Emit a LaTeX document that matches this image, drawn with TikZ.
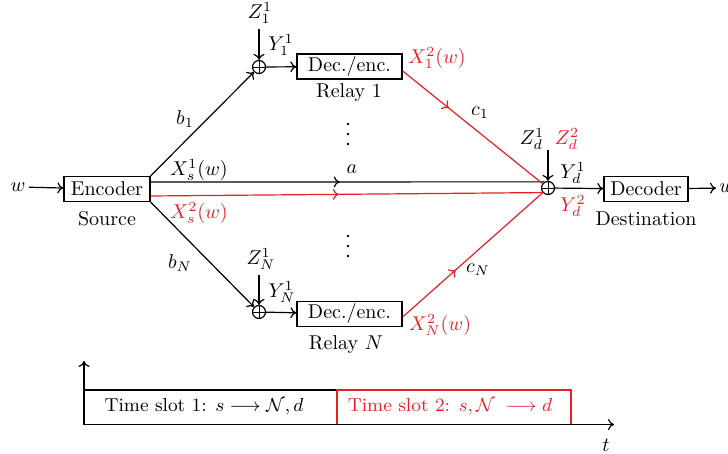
\RequirePackage{fix-cm}
\documentclass[tikz,border=0pt]{standalone}
\usetikzlibrary{decorations.markings,calc,arrows.meta}
\definecolor{myred}{RGB}{232,32,38}
\begin{document}
\begin{tikzpicture}[x=0.5pt,y=-0.5pt,
  every node/.style={font=\fontsize{10}{12}\selectfont, inner sep=0pt},
  box/.style={draw, line width=0.65pt, minimum height=12.5pt, inner sep=0pt},
  osum/.style={draw, circle, minimum size=6.5pt, inner sep=0pt, line width=0.6pt,
    path picture={\draw[line width=0.45pt] (path picture bounding box.north) -- (path picture bounding box.south)
      (path picture bounding box.west) -- (path picture bounding box.east);}},
  conn/.style={line width=0.6pt},
  arr/.style={conn, -{To[length=3pt,width=5.5pt]}},
  midarr/.style={conn, postaction={decorate}, decoration={markings,
    mark=at position #1 with {\arrow{To[length=3pt,width=5.5pt]}}}},
  redc/.style={myred},
]
\useasboundingbox (0,0) rectangle (728,454);

% source
\node[box, minimum width=43pt] (enc) at (107,189) {Encoder};
\node (src) at (107,219) {Source};
\node[inner sep=1.5pt] (win) at (18,187) {$w$};
\draw[arr] (win) -- (enc);

% relays
\node[osum] (o1) at (259,67) {};
\node[osum] (oN) at (259,312) {};
\node[box, minimum width=52.5pt] (box1) at (349.5,66.5) {Dec./enc.};
\node[box, minimum width=52.5pt] (boxN) at (349.5,314) {Dec./enc.};
\node (r1) at (349,93) {Relay 1};
\node (rN) at (346,345) {Relay $N$};

\node (z1) at (260,13) {$Z_1^1$};
\node (y1) at (281,45) {$Y_1^1$};
\node (zN) at (261,259) {$Z_N^1$};
\node (yN) at (282,292) {$Y_N^1$};
\draw[arr] ($(o1)+(0,-38)$) -- (o1);
\draw[arr] ($(oN)+(0,-37)$) -- (oN);
\draw[arr] (o1) -- (box1);
\draw[arr] (oN) -- (boxN);

\draw[arr] (enc.north east) -- (o1);
\draw[arr] (enc.south east) -- (oN);
\node (b1) at (185,119) {$b_1$};
\node (bN) at (180,263) {$b_N$};

% destination
\node[osum] (od) at (548,188) {};
\node[box, minimum width=42pt] (dec) at (646,189) {Decoder};
\node (dst) at (646,219) {Destination};
\node[inner sep=1.5pt, anchor=west] (wout) at (716,188) {$w$};
\draw[arr] (od) -- (dec);
\draw[arr] (dec) -- (wout);
\draw[arr] ($(od)+(0,-38)$) -- (od);
\node (zd1) at (532,139) {$Z_d^1$};
\node[redc] (zd2) at (567,139) {$Z_d^2$};
\node (yd1) at (573,173) {$Y_d^1$};
\node[redc] (yd2) at (573,206) {$Y_d^2$};

% direct links
\draw[midarr=0.48] ($(enc.east)+(0,-7)$) -- (od.120);
\draw[midarr=0.48, myred] ($(enc.east)+(0,7)$) -- (od.220);
\node (xs1) at (199,170) {$X_s^1(w)$};
\node[redc] (xs2) at (199,213) {$X_s^2(w)$};
\node (a) at (352,169) {$a$};

% relay to destination
\draw[midarr=0.33, myred] ($(box1.east)+(0,4.5)$) -- (od);
\draw[midarr=0.38, myred] ($(boxN.east)+(0,3)$) -- (od);
\node[redc] (x12) at (437,58) {$X_1^2(w)$};
\node[redc] (xN2) at (440,325) {$X_N^2(w)$};
\node (c1) at (480,113) {$c_1$};
\node (cN) at (478,270) {$c_N$};

% dots
\foreach \yy in {124,134,144,236,246,256} \fill (348,\yy) circle (0.7pt);

% timeline
\coordinate (O) at (84,424.5);
\coordinate (ytop) at (84,361);
\coordinate (xend) at (614,424.5);
\node[draw, line width=0.65pt, minimum width=126.5pt, minimum height=17.25pt,
  font=\fontsize{9.4}{11}\selectfont] (slot1) at (210.5,407.25)
  {Time slot 1: $s \longrightarrow \mathcal{N}, d$\hspace*{6.5pt}};
\node[draw, myred, line width=0.75pt, minimum width=117pt, minimum height=17.25pt,
  font=\fontsize{9.4}{11}\selectfont] (slot2) at (454,407.25)
  {Time slot 2: $s, \mathcal{N}\;\longrightarrow d$\hspace*{4pt}};
\draw[arr] (O) -- (ytop);
\draw[arr] (O) -- (xend);
\node (t) at (606,445) {$t$};
\end{tikzpicture}
\end{document}
